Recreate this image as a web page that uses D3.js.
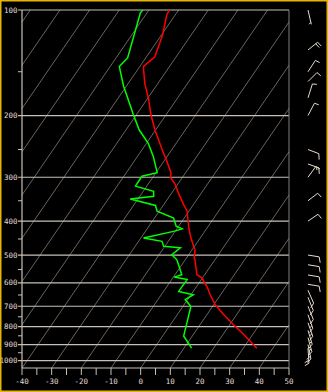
<!DOCTYPE html>
<html>
<head>
<meta charset="utf-8">
<script src="https://cdn.jsdelivr.net/npm/d3@7"></script>
<style>
html,body{margin:0;padding:0;background:#000;}
svg{display:block;}
</style>
</head>
<body>
<div id="chart"></div>
<script>
// temperature profile (hPa, degC)
var tempP = [100,103,118,136,145,162,180,199,220,250,277,292,300,315,333,359,375,414,442,472,483,510,516,569,581,620,649,693,739,790,843,922];
var tempT = [-73.1,-72.9,-69.6,-67.2,-68.8,-64.4,-59.4,-55.1,-50.2,-43.3,-37.6,-34.8,-34.1,-30.7,-27.7,-23.3,-20.6,-16.6,-13.7,-10.3,-9.0,-7.4,-6.7,-2.6,-0.2,4.0,6.5,10.5,15.6,21.3,27.0,34.6];
// dewpoint profile
var dewP = [100,102,137,145,165,199,220,240,262,291,298,318,329,340,346,361,375,392,414,421,428,447,457,472,477,499,516,569,578,587,635,649,670,701,851,922];
var dewT = [-82.1,-82.2,-76.1,-76.9,-70.9,-61,-55.5,-49.4,-44.6,-39.6,-43.9,-43.8,-36.5,-35.3,-42.6,-32.6,-30.7,-23.6,-20.8,-18.2,-20.5,-29.1,-22.1,-20.4,-14.4,-15.7,-12.8,-7.7,-9.7,-4.8,-4.9,0.8,-0.8,2.7,7.1,12.6];
// winds: level, direction of staff (deg), speed (kt)
var windP = [100,130,150,160,178,200,250,275,300,350,400,500,533,570,606,630,660,700,740,780,820,860,900,922];
var windDir = [163,59,41,53,23,35,106,105,44,60,63,97,97,97,97,150,152,152,155,155,158,160,165,175];
var windSpd = [5,20,10,10,10,10,10,15,10,10,10,10,10,10,10,10,10,10,15,15,15,15,20,20];
// axes
var pressureLabels = [100,200,300,400,500,600,700,800,900,1000];
var pressureMinor = [150,250,350,450,550,650,750,850,950];
var tempTicks = [-40,-35,-30,-25,-20,-15,-10,-5,0,5,10,15,20,25,30,35,40,45,50];
var tempLabels = [-40,-30,-20,-10,0,10,20,30,40,50];

var W = 328, H = 392,
    mLeft = 22, mRight = 289, mTop = 10, mBottom = 368,
    SKEW = 0.686,
    GRID = "#c8c0b8",
    ISO = "#857d78",
    TXT = "#e0dcd8";

var x = d3.scaleLinear().domain([-40,50]).range([mLeft,mRight]);
var y = d3.scaleLog().domain([1050,100]).range([mBottom,mTop]);

function sx(t,p){ return x(t) + (y(1050) - y(p))*SKEW; }

var svg = d3.select("#chart").append("svg")
    .attr("width",W).attr("height",H);

svg.append("rect").attr("width",W).attr("height",H).attr("fill","#000");

svg.append("clipPath").attr("id","plot")
  .append("rect")
    .attr("x",mLeft).attr("y",mTop)
    .attr("width",mRight-mLeft).attr("height",mBottom-mTop);

// skewed isotherms
svg.append("g").attr("clip-path","url(#plot)")
    .selectAll("line")
    .data(d3.range(-130,51,10))
  .enter().append("line")
    .attr("x1",function(d){ return sx(d,1050); })
    .attr("y1",y(1050))
    .attr("x2",function(d){ return sx(d,100); })
    .attr("y2",y(100))
    .attr("stroke",ISO)
    .attr("stroke-width",0.8);

// isobars
svg.append("g").selectAll("line")
    .data(pressureLabels)
  .enter().append("line")
    .attr("x1",mLeft-4).attr("x2",mRight)
    .attr("y1",function(d){ return y(d); })
    .attr("y2",function(d){ return y(d); })
    .attr("stroke",GRID)
    .attr("stroke-width",1.2);

svg.append("g").selectAll("line")
    .data(pressureMinor)
  .enter().append("line")
    .attr("x1",mLeft-4).attr("x2",mLeft)
    .attr("y1",function(d){ return y(d); })
    .attr("y2",function(d){ return y(d); })
    .attr("stroke",GRID)
    .attr("stroke-width",1);

svg.append("g").selectAll("text")
    .data(pressureLabels)
  .enter().append("text")
    .attr("x",mLeft-4.5)
    .attr("y",function(d){ return y(d)+2.7; })
    .attr("text-anchor","end")
    .attr("fill",TXT)
    .attr("font-family","DejaVu Sans Mono")
    .attr("font-size",7.5)
    .text(function(d){ return d; });

// frame
svg.append("line").attr("x1",mLeft).attr("x2",mLeft).attr("y1",mTop).attr("y2",mBottom)
    .attr("stroke",GRID).attr("stroke-width",1.2);
svg.append("line").attr("x1",mRight).attr("x2",mRight).attr("y1",mTop).attr("y2",mBottom)
    .attr("stroke",ISO).attr("stroke-width",1);
svg.append("line").attr("x1",mLeft).attr("x2",mRight).attr("y1",mBottom).attr("y2",mBottom)
    .attr("stroke",GRID).attr("stroke-width",1.2);

// temperature axis
svg.append("g").selectAll("line")
    .data(tempTicks)
  .enter().append("line")
    .attr("x1",function(d){ return x(d); })
    .attr("x2",function(d){ return x(d); })
    .attr("y1",mBottom).attr("y2",mBottom+7)
    .attr("stroke",GRID)
    .attr("stroke-width",1);

svg.append("g").selectAll("text")
    .data(tempLabels)
  .enter().append("text")
    .attr("x",function(d){ return x(d); })
    .attr("y",mBottom+16)
    .attr("text-anchor","middle")
    .attr("fill",TXT)
    .attr("font-family","DejaVu Sans Mono")
    .attr("font-size",7.5)
    .text(function(d){ return d; });

// profiles
var line = d3.line()
    .x(function(d){ return sx(d[1],d[0]); })
    .y(function(d){ return y(d[0]); });

svg.append("path")
    .datum(d3.zip(tempP,tempT))
    .attr("d",line)
    .attr("fill","none")
    .attr("stroke","#ff0000")
    .attr("stroke-width",1.5);

svg.append("path")
    .datum(d3.zip(dewP,dewT))
    .attr("d",line)
    .attr("fill","none")
    .attr("stroke","#00ff00")
    .attr("stroke-width",1.5);

// wind barbs (x squeezed a little, like the original plot)
var BX = 308, STAFF = 15, FEATHER = 6, TURN = 70, ASPECT = 0.75;
var barbs = svg.append("g")
    .attr("stroke","#e8dccf")
    .attr("stroke-width",1)
    .attr("fill","none");

windP.forEach(function(p,i){
    var a = windDir[i]*Math.PI/180,
        ux = Math.sin(a)*ASPECT, uy = -Math.cos(a),
        b = (windDir[i]+TURN)*Math.PI/180,
        fx = Math.sin(b)*ASPECT, fy = -Math.cos(b),
        x0 = BX, y0 = y(p),
        tx = x0 + ux*STAFF, ty = y0 + uy*STAFF,
        s = windSpd[i], pos = 0, d = "M"+x0+","+y0+"L"+tx+","+ty;
    while(s >= 10){
        var px = tx - ux*pos, py = ty - uy*pos;
        d += "M"+px+","+py+"l"+(fx*FEATHER)+","+(fy*FEATHER);
        pos += 3; s -= 10;
    }
    if(s >= 5){
        var hx = tx - ux*(pos || 2), hy = ty - uy*(pos || 2);
        d += "M"+hx+","+hy+"l"+(fx*FEATHER/2)+","+(fy*FEATHER/2);
    }
    barbs.append("path").attr("d",d);
});

// outer border
svg.append("rect")
    .attr("x",0.75).attr("y",0.75)
    .attr("width",W-1.5).attr("height",H-1.5)
    .attr("fill","none")
    .attr("stroke","#e8b400")
    .attr("stroke-width",1.5);
</script>
</body>
</html>
